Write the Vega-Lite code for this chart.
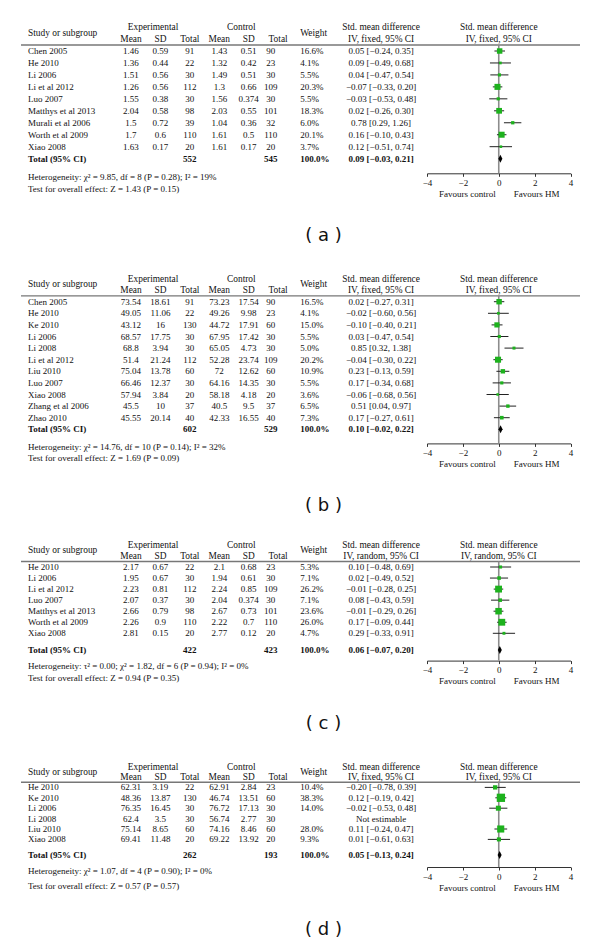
{
"$schema": "https://vega.github.io/schema/vega-lite/v6.json",
"padding": {"left": 20, "right": 21, "top": 0, "bottom": 0},
"background": "white",
"bounds": "flush",
"spacing": 60,
"datasets": {
"hf": [
{"row":"h1","col":"hexp","t":"Experimental"},{"row":"h1","col":"hctrl","t":"Control"},
{"row":"h3","col":"em","t":"Mean"},{"row":"h3","col":"esd","t":"SD"},{"row":"h3","col":"en","t":"Total"},
{"row":"h3","col":"cm","t":"Mean"},{"row":"h3","col":"csd","t":"SD"},{"row":"h3","col":"hcn","t":"Total"},
{"row":"h1","col":"ci","t":"Std. mean difference"},{"row":"h3","col":"ci","t":"IV, fixed, 95% CI"}],
"hr": [
{"row":"h1","col":"hexp","t":"Experimental"},{"row":"h1","col":"hctrl","t":"Control"},
{"row":"h3","col":"em","t":"Mean"},{"row":"h3","col":"esd","t":"SD"},{"row":"h3","col":"en","t":"Total"},
{"row":"h3","col":"cm","t":"Mean"},{"row":"h3","col":"csd","t":"SD"},{"row":"h3","col":"hcn","t":"Total"},
{"row":"h1","col":"ci","t":"Std. mean difference"},{"row":"h3","col":"ci","t":"IV, random, 95% CI"}],
"hl": [{"row":"h2","col":"study","t":"Study or subgroup"},{"row":"h2","col":"w","t":"Weight"}],
"ff": [{"row":"h1","t":"Std. mean difference"},{"row":"h3","t":"IV, fixed, 95% CI"}],
"fr": [{"row":"h1","t":"Std. mean difference"},{"row":"h3","t":"IV, random, 95% CI"}],
"na": [{"row":"het","col":"study","t":"Heterogeneity: χ² = 9.85, df = 8 (P = 0.28); I² = 19%"},{"row":"test","col":"study","t":"Test for overall effect: Z = 1.43 (P = 0.15)"}],
"nb": [{"row":"het","col":"study","t":"Heterogeneity: χ² = 14.76, df = 10 (P = 0.14); I² = 32%"},{"row":"test","col":"study","t":"Test for overall effect: Z = 1.69 (P = 0.09)"}],
"nc": [{"row":"het","col":"study","t":"Heterogeneity: τ² = 0.00; χ² = 1.82, df = 6 (P = 0.94); I² = 0%"},{"row":"test","col":"study","t":"Test for overall effect: Z = 0.94 (P = 0.35)"}],
"nd": [{"row":"het","col":"study","t":"Heterogeneity: χ² = 1.07, df = 4 (P = 0.90); I² = 0%"},{"row":"test","col":"study","t":"Test for overall effect: Z = 0.57 (P = 0.57)"}],
"a": [
{"row":"Chen 2005","em":1.46,"esd":0.59,"en":91,"cm":1.43,"csd":0.51,"cn":90,"wt":16.6,"smd":0.05,"lo":-0.24,"hi":0.35},
{"row":"He 2010","em":1.36,"esd":0.44,"en":22,"cm":1.32,"csd":0.42,"cn":23,"wt":4.1,"smd":0.09,"lo":-0.49,"hi":0.68},
{"row":"Li 2006","em":1.51,"esd":0.56,"en":30,"cm":1.49,"csd":0.51,"cn":30,"wt":5.5,"smd":0.04,"lo":-0.47,"hi":0.54},
{"row":"Li et al 2012","em":1.26,"esd":0.56,"en":112,"cm":1.3,"csd":0.66,"cn":109,"wt":20.3,"smd":-0.07,"lo":-0.33,"hi":0.2},
{"row":"Luo 2007","em":1.55,"esd":0.38,"en":30,"cm":1.56,"csd":0.374,"cn":30,"wt":5.5,"smd":-0.03,"lo":-0.53,"hi":0.48},
{"row":"Matthys et al 2013","em":2.04,"esd":0.58,"en":98,"cm":2.03,"csd":0.55,"cn":101,"wt":18.3,"smd":0.02,"lo":-0.26,"hi":0.3},
{"row":"Murali et al 2006","em":1.5,"esd":0.72,"en":39,"cm":1.04,"csd":0.36,"cn":32,"wt":6.0,"smd":0.78,"lo":0.29,"hi":1.26},
{"row":"Worth et al 2009","em":1.7,"esd":0.6,"en":110,"cm":1.61,"csd":0.5,"cn":110,"wt":20.1,"smd":0.16,"lo":-0.1,"hi":0.43},
{"row":"Xiao 2008","em":1.63,"esd":0.17,"en":20,"cm":1.61,"csd":0.17,"cn":20,"wt":3.7,"smd":0.12,"lo":-0.51,"hi":0.74},
{"row":"Total (95% CI)","en":552,"cn":545,"wt":100,"smd":0.09,"lo":-0.03,"hi":0.21}],
"b": [
{"row":"Chen 2005","em":73.54,"esd":18.61,"en":91,"cm":73.23,"csd":17.54,"cn":90,"wt":16.5,"smd":0.02,"lo":-0.27,"hi":0.31},
{"row":"He 2010","em":49.05,"esd":11.06,"en":22,"cm":49.26,"csd":9.98,"cn":23,"wt":4.1,"smd":-0.02,"lo":-0.6,"hi":0.56},
{"row":"Ke 2010","em":43.12,"esd":16,"en":130,"cm":44.72,"csd":17.91,"cn":60,"wt":15.0,"smd":-0.1,"lo":-0.4,"hi":0.21},
{"row":"Li 2006","em":68.57,"esd":17.75,"en":30,"cm":67.95,"csd":17.42,"cn":30,"wt":5.5,"smd":0.03,"lo":-0.47,"hi":0.54},
{"row":"Li 2008","em":68.8,"esd":3.94,"en":30,"cm":65.05,"csd":4.73,"cn":30,"wt":5.0,"smd":0.85,"lo":0.32,"hi":1.38},
{"row":"Li et al 2012","em":51.4,"esd":21.24,"en":112,"cm":52.28,"csd":23.74,"cn":109,"wt":20.2,"smd":-0.04,"lo":-0.3,"hi":0.22},
{"row":"Liu 2010","em":75.04,"esd":13.78,"en":60,"cm":72,"csd":12.62,"cn":60,"wt":10.9,"smd":0.23,"lo":-0.13,"hi":0.59},
{"row":"Luo 2007","em":66.46,"esd":12.37,"en":30,"cm":64.16,"csd":14.35,"cn":30,"wt":5.5,"smd":0.17,"lo":-0.34,"hi":0.68},
{"row":"Xiao 2008","em":57.94,"esd":3.84,"en":20,"cm":58.18,"csd":4.18,"cn":20,"wt":3.6,"smd":-0.06,"lo":-0.68,"hi":0.56},
{"row":"Zhang et al 2006","em":45.5,"esd":10,"en":37,"cm":40.5,"csd":9.5,"cn":37,"wt":6.5,"smd":0.51,"lo":0.04,"hi":0.97},
{"row":"Zhao 2010","em":45.55,"esd":20.14,"en":40,"cm":42.33,"csd":16.55,"cn":40,"wt":7.3,"smd":0.17,"lo":-0.27,"hi":0.61},
{"row":"Total (95% CI)","en":602,"cn":529,"wt":100,"smd":0.1,"lo":-0.02,"hi":0.22}],
"c": [
{"row":"He 2010","em":2.17,"esd":0.67,"en":22,"cm":2.1,"csd":0.68,"cn":23,"wt":5.3,"smd":0.1,"lo":-0.48,"hi":0.69},
{"row":"Li 2006","em":1.95,"esd":0.67,"en":30,"cm":1.94,"csd":0.61,"cn":30,"wt":7.1,"smd":0.02,"lo":-0.49,"hi":0.52},
{"row":"Li et al 2012","em":2.23,"esd":0.81,"en":112,"cm":2.24,"csd":0.85,"cn":109,"wt":26.2,"smd":-0.01,"lo":-0.28,"hi":0.25},
{"row":"Luo 2007","em":2.07,"esd":0.37,"en":30,"cm":2.04,"csd":0.374,"cn":30,"wt":7.1,"smd":0.08,"lo":-0.43,"hi":0.59},
{"row":"Matthys et al 2013","em":2.66,"esd":0.79,"en":98,"cm":2.67,"csd":0.73,"cn":101,"wt":23.6,"smd":-0.01,"lo":-0.29,"hi":0.26},
{"row":"Worth et al 2009","em":2.26,"esd":0.9,"en":110,"cm":2.22,"csd":0.7,"cn":110,"wt":26.0,"smd":0.17,"lo":-0.09,"hi":0.44},
{"row":"Xiao 2008","em":2.81,"esd":0.15,"en":20,"cm":2.77,"csd":0.12,"cn":20,"wt":4.7,"smd":0.29,"lo":-0.33,"hi":0.91},
{"row":"Total (95% CI)","en":422,"cn":423,"wt":100,"smd":0.06,"lo":-0.07,"hi":0.2}],
"d": [
{"row":"He 2010","em":62.31,"esd":3.19,"en":22,"cm":62.91,"csd":2.84,"cn":23,"wt":10.4,"smd":-0.2,"lo":-0.78,"hi":0.39},
{"row":"Ke 2010","em":48.36,"esd":13.87,"en":130,"cm":46.74,"csd":13.51,"cn":60,"wt":38.3,"smd":0.12,"lo":-0.19,"hi":0.42},
{"row":"Li 2006","em":76.35,"esd":16.45,"en":30,"cm":76.72,"csd":17.13,"cn":30,"wt":14.0,"smd":-0.02,"lo":-0.53,"hi":0.48},
{"row":"Li 2008","em":62.4,"esd":3.5,"en":30,"cm":56.74,"csd":2.77,"cn":30},
{"row":"Liu 2010","em":75.14,"esd":8.65,"en":60,"cm":74.16,"csd":8.46,"cn":60,"wt":28.0,"smd":0.11,"lo":-0.24,"hi":0.47},
{"row":"Xiao 2008","em":69.41,"esd":11.48,"en":20,"cm":69.22,"csd":13.92,"cn":20,"wt":9.3,"smd":0.01,"lo":-0.61,"hi":0.63},
{"row":"Total (95% CI)","en":262,"cn":193,"wt":100,"smd":0.05,"lo":-0.13,"hi":0.24}]
},
"vconcat": [
{
"width": 559, "height": 173.3,
"title": {"text": "( a )", "orient": "bottom", "offset": 29, "dx": 23, "frame": "group"},
"encoding": {"y": {"field": "row", "type": "nominal", "axis": null, "scale": {"type": "point", "padding": 0, "range": [27.08, 188.54], "domain": ["h1","h2","h3","hline","Chen 2005","_1","He 2010","_2","Li 2006","_3","Li et al 2012","_4","Luo 2007","_5","Matthys et al 2013","_6","Murali et al 2006","_7","Worth et al 2009","_8","Xiao 2008","_9","Total (95% CI)","_10","_11","het","_12","test"]}}},
"resolve": {"scale": {"x": "independent"}},
"layer": [
{"layer": [
{"data": {"name": "hf"}, "mark": {"type": "text", "fontSize": 9.4}, "encoding": {"x": {"field": "col", "type": "nominal", "axis": null, "scale": {"type": "point", "padding": 0, "range": [7, 360.1], "domain": ["study","_1","_2","_3","_4","_5","_6","_7","_8","_9","_10","_11","_12","_13","em","_15","_16","hexp","esd","_19","_20","_21","en","_23","_24","_25","cm","_27","_28","hctrl","csd","_31","_32","cn","hcn","_35","_36","w","_38","_39","_40","_41","_42","_43","_44","_45","_46","_47","ci"]}}, "text": {"field": "t", "type": "nominal"}}},
{"data": {"name": "hl"}, "mark": {"type": "text", "align": "left", "fontSize": 9.4}, "encoding": {"x": {"field": "col", "type": "nominal"}, "text": {"field": "t", "type": "nominal"}}},
{"data": {"name": "na"}, "mark": {"type": "text", "align": "left"}, "encoding": {"x": {"field": "col", "type": "nominal"}, "text": {"field": "t", "type": "nominal"}}},
{"data": {"values": [{"row": "hline"}]}, "mark": {"type": "rule", "color": "#777777", "strokeWidth": 1.4}, "encoding": {}},
{"data": {"name": "a"}, "transform": [{"filter": "datum.row !== 'Total (95% CI)'"}, {"calculate": "datum.row", "as": "study"}, {"calculate": "isValid(datum.wt) ? format(datum.wt, '.1f') + '%' : ''", "as": "w"}, {"fold": ["study", "w"], "as": ["col", "val"]}], "mark": {"type": "text", "align": "left"}, "encoding": {"x": {"field": "col", "type": "nominal"}, "text": {"field": "val", "type": "nominal"}}},
{"data": {"name": "a"}, "transform": [{"filter": "datum.row === 'Total (95% CI)'"}, {"calculate": "datum.row", "as": "study"}, {"calculate": "format(datum.wt, '.1f') + '%'", "as": "w"}, {"fold": ["study", "w"], "as": ["col", "val"]}], "mark": {"type": "text", "align": "left", "fontWeight": "bold"}, "encoding": {"x": {"field": "col", "type": "nominal"}, "text": {"field": "val", "type": "nominal"}}},
{"data": {"name": "a"}, "transform": [{"filter": "datum.row !== 'Total (95% CI)'"}, {"calculate": "isValid(datum.smd) ? format(datum.smd, '.2f') + ' [' + format(datum.lo, '.2f') + ', ' + format(datum.hi, '.2f') + ']' : 'Not estimable'", "as": "ci"}, {"fold": ["em","esd","en","cm","csd","cn","ci"], "as": ["col", "val"]}, {"filter": "isValid(datum.val)"}], "mark": {"type": "text"}, "encoding": {"x": {"field": "col", "type": "nominal"}, "text": {"field": "val", "type": "nominal"}}},
{"data": {"name": "a"}, "transform": [{"filter": "datum.row === 'Total (95% CI)'"}, {"calculate": "format(datum.smd, '.2f') + ' [' + format(datum.lo, '.2f') + ', ' + format(datum.hi, '.2f') + ']'", "as": "ci"}, {"fold": ["en","cn","ci"], "as": ["col", "val"]}], "mark": {"type": "text", "fontWeight": "bold"}, "encoding": {"x": {"field": "col", "type": "nominal"}, "text": {"field": "val", "type": "nominal"}}}
]},
{"layer": [
{"data": {"values": [{"row": "hline"}]}, "mark": {"type": "rule", "color": "#8c8c8c", "strokeWidth": 1.6}, "encoding": {"x": {"datum": 0, "type": "quantitative", "scale": {"domain": [-4, 4], "range": [406, 549.5], "nice": false, "zero": false}, "axis": {"orient": "bottom", "format": "d", "values": [-4, -2, 0, 2, 4], "title": "Favours control\u00a0\u00a0\u00a0\u00a0\u00a0\u00a0\u00a0\u00a0Favours HM"}}, "y2": {"value": "height"}}},
{"data": {"name": "ff"}, "mark": {"type": "text", "fontSize": 9.4}, "encoding": {"x": {"datum": 0, "type": "quantitative"}, "text": {"field": "t", "type": "nominal"}}},
{"data": {"name": "a"}, "transform": [{"filter": "isValid(datum.smd) && datum.row !== 'Total (95% CI)'"}], "mark": {"type": "rule", "color": "#222222", "strokeWidth": 1}, "encoding": {"x": {"field": "lo", "type": "quantitative"}, "x2": {"field": "hi"}}},
{"data": {"name": "a"}, "transform": [{"filter": "isValid(datum.smd) && datum.row !== 'Total (95% CI)'"}], "mark": {"type": "point", "shape": "square", "filled": true, "color": "#1db21d", "opacity": 1, "strokeWidth": 0}, "encoding": {"x": {"field": "smd", "type": "quantitative"}, "size": {"field": "wt", "type": "quantitative", "scale": {"domain": [0, 40], "range": [0, 72]}, "legend": null}}},
{"data": {"name": "a"}, "transform": [{"filter": "datum.row === 'Total (95% CI)'"}], "mark": {"type": "point", "shape": "M-0.5,0L0,-1L0.5,0L0,1Z", "filled": true, "color": "#000000", "opacity": 1, "size": 64, "strokeWidth": 0}, "encoding": {"x": {"field": "smd", "type": "quantitative"}}}
]}
]
},
{
"width": 559, "height": 209.4,
"title": {"text": "( b )", "orient": "bottom", "offset": 29, "dx": 23, "frame": "group"},
"encoding": {"y": {"field": "row", "type": "nominal", "axis": null, "scale": {"type": "point", "padding": 0, "range": [44.5, 224.3], "domain": ["h1","h2","h3","hline","Chen 2005","_1","He 2010","_2","Ke 2010","_3","Li 2006","_4","Li 2008","_5","Li et al 2012","_6","Liu 2010","_7","Luo 2007","_8","Xiao 2008","_9","Zhang et al 2006","_10","Zhao 2010","_11","Total (95% CI)","_12","_13","het","_14","test"]}}},
"resolve": {"scale": {"x": "independent"}},
"layer": [
{"layer": [
{"data": {"name": "hf"}, "mark": {"type": "text", "fontSize": 9.4}, "encoding": {"x": {"field": "col", "type": "nominal", "axis": null, "scale": {"type": "point", "padding": 0, "range": [7, 360.1], "domain": ["study","_1","_2","_3","_4","_5","_6","_7","_8","_9","_10","_11","_12","_13","em","_15","_16","hexp","esd","_19","_20","_21","en","_23","_24","_25","cm","_27","_28","hctrl","csd","_31","_32","cn","hcn","_35","_36","w","_38","_39","_40","_41","_42","_43","_44","_45","_46","_47","ci"]}}, "text": {"field": "t", "type": "nominal"}}},
{"data": {"name": "hl"}, "mark": {"type": "text", "align": "left", "fontSize": 9.4}, "encoding": {"x": {"field": "col", "type": "nominal"}, "text": {"field": "t", "type": "nominal"}}},
{"data": {"name": "nb"}, "mark": {"type": "text", "align": "left"}, "encoding": {"x": {"field": "col", "type": "nominal"}, "text": {"field": "t", "type": "nominal"}}},
{"data": {"values": [{"row": "hline"}]}, "mark": {"type": "rule", "color": "#777777", "strokeWidth": 1.4}, "encoding": {}},
{"data": {"name": "b"}, "transform": [{"filter": "datum.row !== 'Total (95% CI)'"}, {"calculate": "datum.row", "as": "study"}, {"calculate": "isValid(datum.wt) ? format(datum.wt, '.1f') + '%' : ''", "as": "w"}, {"fold": ["study", "w"], "as": ["col", "val"]}], "mark": {"type": "text", "align": "left"}, "encoding": {"x": {"field": "col", "type": "nominal"}, "text": {"field": "val", "type": "nominal"}}},
{"data": {"name": "b"}, "transform": [{"filter": "datum.row === 'Total (95% CI)'"}, {"calculate": "datum.row", "as": "study"}, {"calculate": "format(datum.wt, '.1f') + '%'", "as": "w"}, {"fold": ["study", "w"], "as": ["col", "val"]}], "mark": {"type": "text", "align": "left", "fontWeight": "bold"}, "encoding": {"x": {"field": "col", "type": "nominal"}, "text": {"field": "val", "type": "nominal"}}},
{"data": {"name": "b"}, "transform": [{"filter": "datum.row !== 'Total (95% CI)'"}, {"calculate": "isValid(datum.smd) ? format(datum.smd, '.2f') + ' [' + format(datum.lo, '.2f') + ', ' + format(datum.hi, '.2f') + ']' : 'Not estimable'", "as": "ci"}, {"fold": ["em","esd","en","cm","csd","cn","ci"], "as": ["col", "val"]}, {"filter": "isValid(datum.val)"}], "mark": {"type": "text"}, "encoding": {"x": {"field": "col", "type": "nominal"}, "text": {"field": "val", "type": "nominal"}}},
{"data": {"name": "b"}, "transform": [{"filter": "datum.row === 'Total (95% CI)'"}, {"calculate": "format(datum.smd, '.2f') + ' [' + format(datum.lo, '.2f') + ', ' + format(datum.hi, '.2f') + ']'", "as": "ci"}, {"fold": ["en","cn","ci"], "as": ["col", "val"]}], "mark": {"type": "text", "fontWeight": "bold"}, "encoding": {"x": {"field": "col", "type": "nominal"}, "text": {"field": "val", "type": "nominal"}}}
]},
{"layer": [
{"data": {"values": [{"row": "hline"}]}, "mark": {"type": "rule", "color": "#8c8c8c", "strokeWidth": 1.6}, "encoding": {"x": {"datum": 0, "type": "quantitative", "scale": {"domain": [-4, 4], "range": [406, 549.5], "nice": false, "zero": false}, "axis": {"orient": "bottom", "format": "d", "values": [-4, -2, 0, 2, 4], "title": "Favours control\u00a0\u00a0\u00a0\u00a0\u00a0\u00a0\u00a0\u00a0Favours HM"}}, "y2": {"value": "height"}}},
{"data": {"name": "ff"}, "mark": {"type": "text", "fontSize": 9.4}, "encoding": {"x": {"datum": 0, "type": "quantitative"}, "text": {"field": "t", "type": "nominal"}}},
{"data": {"name": "b"}, "transform": [{"filter": "isValid(datum.smd) && datum.row !== 'Total (95% CI)'"}], "mark": {"type": "rule", "color": "#222222", "strokeWidth": 1}, "encoding": {"x": {"field": "lo", "type": "quantitative"}, "x2": {"field": "hi"}}},
{"data": {"name": "b"}, "transform": [{"filter": "isValid(datum.smd) && datum.row !== 'Total (95% CI)'"}], "mark": {"type": "point", "shape": "square", "filled": true, "color": "#1db21d", "opacity": 1, "strokeWidth": 0}, "encoding": {"x": {"field": "smd", "type": "quantitative"}, "size": {"field": "wt", "type": "quantitative", "scale": {"domain": [0, 40], "range": [0, 72]}, "legend": null}}},
{"data": {"name": "b"}, "transform": [{"filter": "datum.row === 'Total (95% CI)'"}], "mark": {"type": "point", "shape": "M-0.5,0L0,-1L0.5,0L0,1Z", "filled": true, "color": "#000000", "opacity": 1, "size": 64, "strokeWidth": 0}, "encoding": {"x": {"field": "smd", "type": "quantitative"}}}
]}
]
},
{
"width": 559, "height": 156.6,
"title": {"text": "( c )", "orient": "bottom", "offset": 29, "dx": 23, "frame": "group"},
"encoding": {"y": {"field": "row", "type": "nominal", "axis": null, "scale": {"type": "point", "padding": 0, "range": [40.9, 173.5], "domain": ["h1","h2","h3","hline","He 2010","_1","Li 2006","_2","Li et al 2012","_3","Luo 2007","_4","Matthys et al 2013","_5","Worth et al 2009","_6","Xiao 2008","_7","_8","Total (95% CI)","_9","_10","het","_11","test"]}}},
"resolve": {"scale": {"x": "independent"}},
"layer": [
{"layer": [
{"data": {"name": "hr"}, "mark": {"type": "text", "fontSize": 9.4}, "encoding": {"x": {"field": "col", "type": "nominal", "axis": null, "scale": {"type": "point", "padding": 0, "range": [7, 360.1], "domain": ["study","_1","_2","_3","_4","_5","_6","_7","_8","_9","_10","_11","_12","_13","em","_15","_16","hexp","esd","_19","_20","_21","en","_23","_24","_25","cm","_27","_28","hctrl","csd","_31","_32","cn","hcn","_35","_36","w","_38","_39","_40","_41","_42","_43","_44","_45","_46","_47","ci"]}}, "text": {"field": "t", "type": "nominal"}}},
{"data": {"name": "hl"}, "mark": {"type": "text", "align": "left", "fontSize": 9.4}, "encoding": {"x": {"field": "col", "type": "nominal"}, "text": {"field": "t", "type": "nominal"}}},
{"data": {"name": "nc"}, "mark": {"type": "text", "align": "left"}, "encoding": {"x": {"field": "col", "type": "nominal"}, "text": {"field": "t", "type": "nominal"}}},
{"data": {"values": [{"row": "hline"}]}, "mark": {"type": "rule", "color": "#777777", "strokeWidth": 1.4}, "encoding": {}},
{"data": {"name": "c"}, "transform": [{"filter": "datum.row !== 'Total (95% CI)'"}, {"calculate": "datum.row", "as": "study"}, {"calculate": "isValid(datum.wt) ? format(datum.wt, '.1f') + '%' : ''", "as": "w"}, {"fold": ["study", "w"], "as": ["col", "val"]}], "mark": {"type": "text", "align": "left"}, "encoding": {"x": {"field": "col", "type": "nominal"}, "text": {"field": "val", "type": "nominal"}}},
{"data": {"name": "c"}, "transform": [{"filter": "datum.row === 'Total (95% CI)'"}, {"calculate": "datum.row", "as": "study"}, {"calculate": "format(datum.wt, '.1f') + '%'", "as": "w"}, {"fold": ["study", "w"], "as": ["col", "val"]}], "mark": {"type": "text", "align": "left", "fontWeight": "bold"}, "encoding": {"x": {"field": "col", "type": "nominal"}, "text": {"field": "val", "type": "nominal"}}},
{"data": {"name": "c"}, "transform": [{"filter": "datum.row !== 'Total (95% CI)'"}, {"calculate": "isValid(datum.smd) ? format(datum.smd, '.2f') + ' [' + format(datum.lo, '.2f') + ', ' + format(datum.hi, '.2f') + ']' : 'Not estimable'", "as": "ci"}, {"fold": ["em","esd","en","cm","csd","cn","ci"], "as": ["col", "val"]}, {"filter": "isValid(datum.val)"}], "mark": {"type": "text"}, "encoding": {"x": {"field": "col", "type": "nominal"}, "text": {"field": "val", "type": "nominal"}}},
{"data": {"name": "c"}, "transform": [{"filter": "datum.row === 'Total (95% CI)'"}, {"calculate": "format(datum.smd, '.2f') + ' [' + format(datum.lo, '.2f') + ', ' + format(datum.hi, '.2f') + ']'", "as": "ci"}, {"fold": ["en","cn","ci"], "as": ["col", "val"]}], "mark": {"type": "text", "fontWeight": "bold"}, "encoding": {"x": {"field": "col", "type": "nominal"}, "text": {"field": "val", "type": "nominal"}}}
]},
{"layer": [
{"data": {"values": [{"row": "hline"}]}, "mark": {"type": "rule", "color": "#8c8c8c", "strokeWidth": 1.6}, "encoding": {"x": {"datum": 0, "type": "quantitative", "scale": {"domain": [-4, 4], "range": [406, 549.5], "nice": false, "zero": false}, "axis": {"orient": "bottom", "format": "d", "values": [-4, -2, 0, 2, 4], "title": "Favours control\u00a0\u00a0\u00a0\u00a0\u00a0\u00a0\u00a0\u00a0Favours HM"}}, "y2": {"value": "height"}}},
{"data": {"name": "fr"}, "mark": {"type": "text", "fontSize": 9.4}, "encoding": {"x": {"datum": 0, "type": "quantitative"}, "text": {"field": "t", "type": "nominal"}}},
{"data": {"name": "c"}, "transform": [{"filter": "isValid(datum.smd) && datum.row !== 'Total (95% CI)'"}], "mark": {"type": "rule", "color": "#222222", "strokeWidth": 1}, "encoding": {"x": {"field": "lo", "type": "quantitative"}, "x2": {"field": "hi"}}},
{"data": {"name": "c"}, "transform": [{"filter": "isValid(datum.smd) && datum.row !== 'Total (95% CI)'"}], "mark": {"type": "point", "shape": "square", "filled": true, "color": "#1db21d", "opacity": 1, "strokeWidth": 0}, "encoding": {"x": {"field": "smd", "type": "quantitative"}, "size": {"field": "wt", "type": "quantitative", "scale": {"domain": [0, 40], "range": [0, 72]}, "legend": null}}},
{"data": {"name": "c"}, "transform": [{"filter": "datum.row === 'Total (95% CI)'"}], "mark": {"type": "point", "shape": "M-0.5,0L0,-1L0.5,0L0,1Z", "filled": true, "color": "#000000", "opacity": 1, "size": 64, "strokeWidth": 0}, "encoding": {"x": {"field": "smd", "type": "quantitative"}}}
]}
]
},
{
"width": 559, "height": 146,
"title": {"text": "( d )", "orient": "bottom", "offset": 29, "dx": 23, "frame": "group"},
"encoding": {"y": {"field": "row", "type": "nominal", "axis": null, "scale": {"type": "point", "padding": 0, "range": [45.6, 165.2], "domain": ["h1","h2","h3","hline","He 2010","_1","Ke 2010","_2","Li 2006","_3","Li 2008","_4","Liu 2010","_5","Xiao 2008","_6","_7","Total (95% CI)","_8","_9","het","_10","_11","test"]}}},
"resolve": {"scale": {"x": "independent"}},
"layer": [
{"layer": [
{"data": {"name": "hf"}, "mark": {"type": "text", "fontSize": 9.4}, "encoding": {"x": {"field": "col", "type": "nominal", "axis": null, "scale": {"type": "point", "padding": 0, "range": [7, 360.1], "domain": ["study","_1","_2","_3","_4","_5","_6","_7","_8","_9","_10","_11","_12","_13","em","_15","_16","hexp","esd","_19","_20","_21","en","_23","_24","_25","cm","_27","_28","hctrl","csd","_31","_32","cn","hcn","_35","_36","w","_38","_39","_40","_41","_42","_43","_44","_45","_46","_47","ci"]}}, "text": {"field": "t", "type": "nominal"}}},
{"data": {"name": "hl"}, "mark": {"type": "text", "align": "left", "fontSize": 9.4}, "encoding": {"x": {"field": "col", "type": "nominal"}, "text": {"field": "t", "type": "nominal"}}},
{"data": {"name": "nd"}, "mark": {"type": "text", "align": "left"}, "encoding": {"x": {"field": "col", "type": "nominal"}, "text": {"field": "t", "type": "nominal"}}},
{"data": {"values": [{"row": "hline"}]}, "mark": {"type": "rule", "color": "#777777", "strokeWidth": 1.4}, "encoding": {}},
{"data": {"name": "d"}, "transform": [{"filter": "datum.row !== 'Total (95% CI)'"}, {"calculate": "datum.row", "as": "study"}, {"calculate": "isValid(datum.wt) ? format(datum.wt, '.1f') + '%' : ''", "as": "w"}, {"fold": ["study", "w"], "as": ["col", "val"]}], "mark": {"type": "text", "align": "left"}, "encoding": {"x": {"field": "col", "type": "nominal"}, "text": {"field": "val", "type": "nominal"}}},
{"data": {"name": "d"}, "transform": [{"filter": "datum.row === 'Total (95% CI)'"}, {"calculate": "datum.row", "as": "study"}, {"calculate": "format(datum.wt, '.1f') + '%'", "as": "w"}, {"fold": ["study", "w"], "as": ["col", "val"]}], "mark": {"type": "text", "align": "left", "fontWeight": "bold"}, "encoding": {"x": {"field": "col", "type": "nominal"}, "text": {"field": "val", "type": "nominal"}}},
{"data": {"name": "d"}, "transform": [{"filter": "datum.row !== 'Total (95% CI)'"}, {"calculate": "isValid(datum.smd) ? format(datum.smd, '.2f') + ' [' + format(datum.lo, '.2f') + ', ' + format(datum.hi, '.2f') + ']' : 'Not estimable'", "as": "ci"}, {"fold": ["em","esd","en","cm","csd","cn","ci"], "as": ["col", "val"]}, {"filter": "isValid(datum.val)"}], "mark": {"type": "text"}, "encoding": {"x": {"field": "col", "type": "nominal"}, "text": {"field": "val", "type": "nominal"}}},
{"data": {"name": "d"}, "transform": [{"filter": "datum.row === 'Total (95% CI)'"}, {"calculate": "format(datum.smd, '.2f') + ' [' + format(datum.lo, '.2f') + ', ' + format(datum.hi, '.2f') + ']'", "as": "ci"}, {"fold": ["en","cn","ci"], "as": ["col", "val"]}], "mark": {"type": "text", "fontWeight": "bold"}, "encoding": {"x": {"field": "col", "type": "nominal"}, "text": {"field": "val", "type": "nominal"}}}
]},
{"layer": [
{"data": {"values": [{"row": "hline"}]}, "mark": {"type": "rule", "color": "#8c8c8c", "strokeWidth": 1.6}, "encoding": {"x": {"datum": 0, "type": "quantitative", "scale": {"domain": [-4, 4], "range": [406, 549.5], "nice": false, "zero": false}, "axis": {"orient": "bottom", "format": "d", "values": [-4, -2, 0, 2, 4], "title": "Favours control\u00a0\u00a0\u00a0\u00a0\u00a0\u00a0\u00a0\u00a0Favours HM"}}, "y2": {"value": "height"}}},
{"data": {"name": "ff"}, "mark": {"type": "text", "fontSize": 9.4}, "encoding": {"x": {"datum": 0, "type": "quantitative"}, "text": {"field": "t", "type": "nominal"}}},
{"data": {"name": "d"}, "transform": [{"filter": "isValid(datum.smd) && datum.row !== 'Total (95% CI)'"}], "mark": {"type": "rule", "color": "#222222", "strokeWidth": 1}, "encoding": {"x": {"field": "lo", "type": "quantitative"}, "x2": {"field": "hi"}}},
{"data": {"name": "d"}, "transform": [{"filter": "isValid(datum.smd) && datum.row !== 'Total (95% CI)'"}], "mark": {"type": "point", "shape": "square", "filled": true, "color": "#1db21d", "opacity": 1, "strokeWidth": 0}, "encoding": {"x": {"field": "smd", "type": "quantitative"}, "size": {"field": "wt", "type": "quantitative", "scale": {"domain": [0, 40], "range": [0, 72]}, "legend": null}}},
{"data": {"name": "d"}, "transform": [{"filter": "datum.row === 'Total (95% CI)'"}], "mark": {"type": "point", "shape": "M-0.5,0L0,-1L0.5,0L0,1Z", "filled": true, "color": "#000000", "opacity": 1, "size": 64, "strokeWidth": 0}, "encoding": {"x": {"field": "smd", "type": "quantitative"}}}
]}
]
}
],
"config": {
"view": {"stroke": null},
"font": "Liberation Serif",
"text": {"font": "Liberation Serif", "fontSize": 9, "color": "#111111"},
"axis": {"labelFont": "Liberation Serif", "labelFontSize": 9, "labelColor": "#111111", "titleFont": "Liberation Serif", "titleFontSize": 9, "titleFontWeight": "normal", "titleColor": "#111111", "domainColor": "#333333", "tickColor": "#333333", "tickSize": 3, "grid": false, "labelFlush": false, "labelPadding": 2, "titlePadding": 2},
"title": {"font": "DejaVu Sans", "fontSize": 18, "fontWeight": "normal", "color": "#111111"}
}
}
